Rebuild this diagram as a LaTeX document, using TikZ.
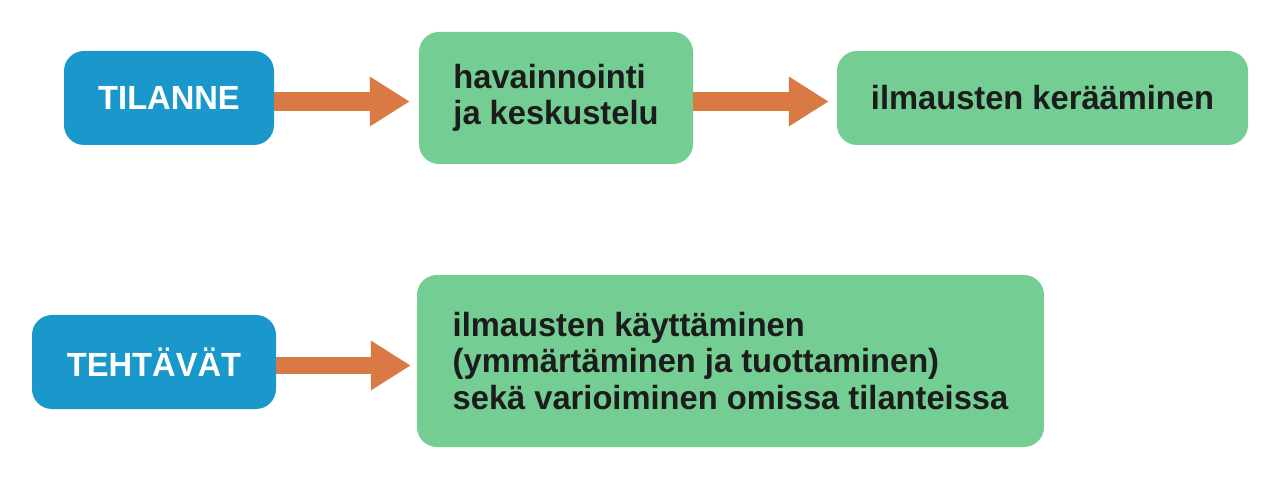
\documentclass[tikz,border=0pt]{standalone}
\usepackage{fontspec}
\setmainfont{Liberation Sans}[FakeStretch=0.975]
\usetikzlibrary{arrows.meta}
\definecolor{boxblue}{HTML}{1B98CB}
\definecolor{boxgreen}{HTML}{74CE93}
\definecolor{arroworange}{HTML}{D97944}
\definecolor{textdark}{HTML}{1C1C1C}
\begin{document}
\begin{tikzpicture}[x=1pt,y=-1pt,
  bluebox/.style={fill=boxblue, rounded corners=20pt, inner sep=0pt, text=white,
    font=\fontsize{33.5}{37}\selectfont\bfseries, minimum height=94pt},
  greenbox/.style={fill=boxgreen, rounded corners=20pt, inner sep=0pt, text=textdark,
    font=\fontsize{33.5}{36.5}\selectfont\bfseries, align=left},
  flowarrow/.style={draw=arroworange, line width=19pt, -{Triangle[length=40pt,width=47pt,fill=arroworange]}}]
\useasboundingbox (0,0) rectangle (1280,486);
\node[bluebox, minimum width=210pt] (tilanne) at (169,98) {TILANNE};
\node[greenbox, minimum width=274pt, minimum height=132pt] (hav) at (556,98) {havainnointi\\ja keskustelu};
\node[greenbox, minimum width=411pt, minimum height=94pt] (ker) at (1042.5,98) {ilmausten kerääminen};
\node[bluebox, minimum width=244pt] (teht) at (154,362) {TEHTÄVÄT};
\node[greenbox, minimum width=627pt, minimum height=172pt] (kay) at (730.5,361) {ilmausten käyttäminen\\(ymmärtäminen ja tuottaminen)\\sekä varioiminen omissa tilanteissa};
\draw[flowarrow, shorten >=9pt] ([yshift=-3.5pt]tilanne.east) -- ([yshift=-3.5pt]tilanne.east -| hav.west);
\draw[flowarrow, shorten >=8pt] ([yshift=-3.5pt]hav.east) -- ([yshift=-3.5pt]hav.east -| ker.west);
\draw[flowarrow, line width=17pt, shorten >=6pt] ([yshift=-3.5pt]teht.east) -- ([yshift=-3.5pt]teht.east -| kay.west);
\end{tikzpicture}
\end{document}
